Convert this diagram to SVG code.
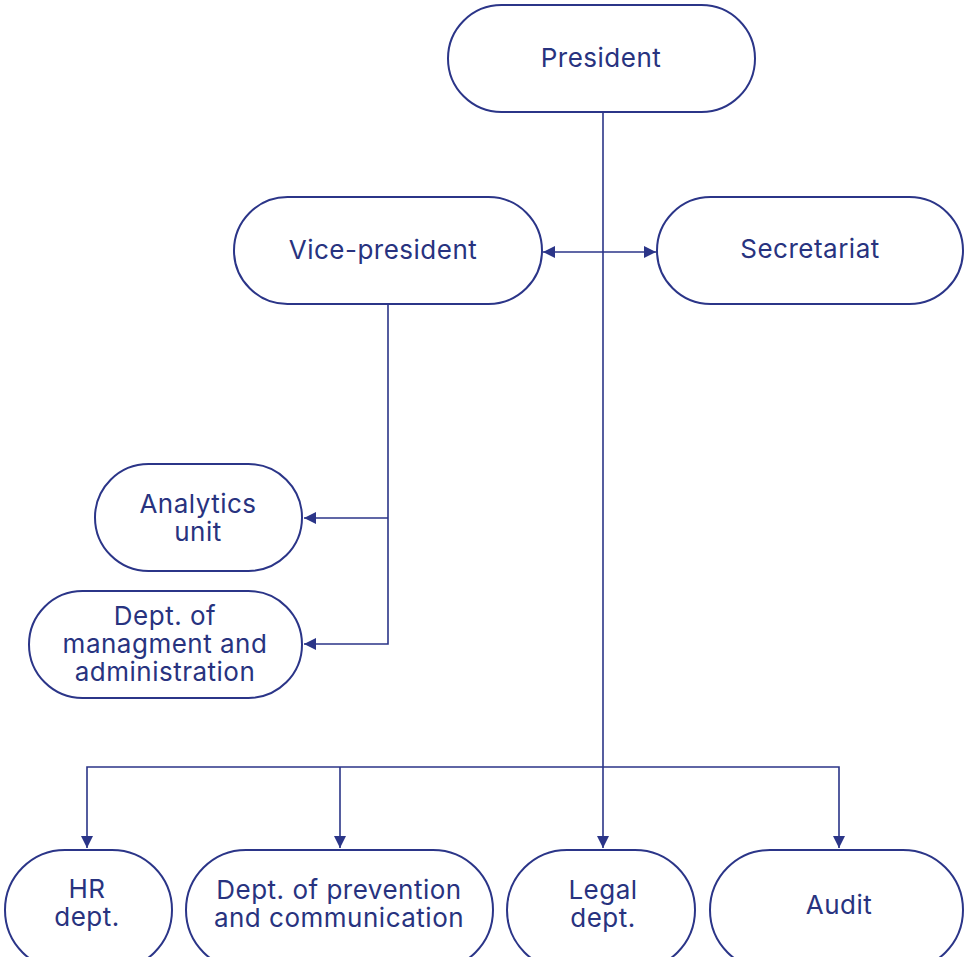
<svg xmlns="http://www.w3.org/2000/svg" width="967" height="957" viewBox="0 0 967 957">
<style>
.n{fill:#fff;stroke:#2b3588;stroke-width:2}
.t{font-family:Inter,"Noto Sans",sans-serif;font-size:26px;letter-spacing:0.5px;fill:#28337f;text-anchor:middle}
.c{fill:none;stroke:#2b3588;stroke-width:1.6}
</style>
<defs>
<marker id="a" viewBox="0 0 12 12" refX="12" refY="6" markerWidth="12" markerHeight="12" markerUnits="userSpaceOnUse" orient="auto-start-reverse">
<path d="M0,0 L12,6 L0,12 z" fill="#2b3588"/>
</marker>
</defs>
<rect width="967" height="957" fill="#fff"/>
<g id="connectors">
<path class="c" d="M603,112 V848" marker-end="url(#a)"/>
<path class="c" d="M543,252 H656" marker-start="url(#a)" marker-end="url(#a)"/>
<path class="c" d="M388,305 V644 H304" marker-end="url(#a)"/>
<path class="c" d="M388,518 H304" marker-end="url(#a)"/>
<path class="c" d="M87,848 V767 H839 V848" marker-start="url(#a)" marker-end="url(#a)"/>
<path class="c" d="M340,767 V848" marker-end="url(#a)"/>
</g>
<g id="president"><rect class="n" x="448" y="5" width="307" height="107" rx="53.5"/><text class="t" x="601" y="67">President</text></g>
<g id="vice-president"><rect class="n" x="234" y="197" width="308" height="107" rx="53.5"/><text class="t" x="383" y="259">Vice-president</text></g>
<g id="secretariat"><rect class="n" x="657" y="197" width="306" height="107" rx="53.5"/><text class="t" x="810" y="258">Secretariat</text></g>
<g id="analytics"><rect class="n" x="95" y="464" width="207" height="107" rx="53.5"/><text class="t" x="198" y="513">Analytics</text><text class="t" x="198" y="541">unit</text></g>
<g id="management"><rect class="n" x="29" y="591" width="273" height="107" rx="53.5"/><text class="t" x="165" y="625">Dept. of</text><text class="t" x="165" y="653">managment and</text><text class="t" x="165" y="681">administration</text></g>
<g id="hr"><rect class="n" x="5" y="850" width="167" height="120" rx="60"/><text class="t" x="87" y="898">HR</text><text class="t" x="87" y="926">dept.</text></g>
<g id="prevention"><rect class="n" x="186" y="850" width="307" height="120" rx="60"/><text class="t" x="339" y="899">Dept. of prevention</text><text class="t" x="339" y="927">and communication</text></g>
<g id="legal"><rect class="n" x="507" y="850" width="188" height="120" rx="60"/><text class="t" x="603" y="899">Legal</text><text class="t" x="603" y="927">dept.</text></g>
<g id="audit"><rect class="n" x="710" y="850" width="253" height="120" rx="60"/><text class="t" x="839" y="914">Audit</text></g>
</svg>
